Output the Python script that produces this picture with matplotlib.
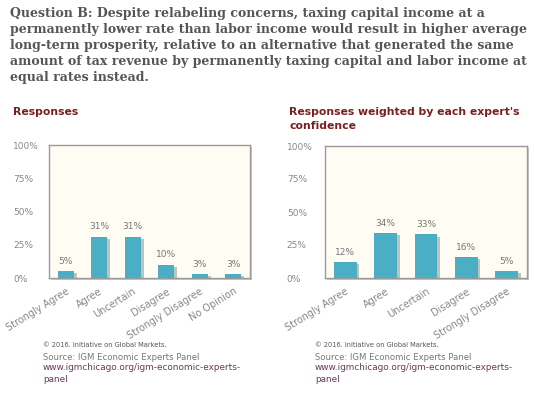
import numpy as np
import matplotlib
matplotlib.use("Agg")
from matplotlib import pyplot as plt
from matplotlib import patheffects as pe
from matplotlib.patches import Rectangle

# Data
question_lines = [
    "Question B: Despite relabeling concerns, taxing capital income at a",
    "permanently lower rate than labor income would result in higher average",
    "long-term prosperity, relative to an alternative that generated the same",
    "amount of tax revenue by permanently taxing capital and labor income at",
    "equal rates instead.",
]
left_categories = ["Strongly Agree", "Agree", "Uncertain", "Disagree",
                   "Strongly Disagree", "No Opinion"]
left_values = [5, 31, 31, 10, 3, 3]
right_categories = ["Strongly Agree", "Agree", "Uncertain", "Disagree",
                    "Strongly Disagree"]
right_values = [12, 34, 33, 16, 5]
y_ticks = [0, 25, 50, 75, 100]

W, H = 535, 394
fig = plt.figure(figsize=(W / 100, H / 100), dpi=100)
fig.patch.set_facecolor("white")


def px(x, y):
    return x / W, 1 - y / H


# Question text
for i, line in enumerate(question_lines):
    fig.text(*px(10, 14 + i * 15.8), line, family="DejaVu Serif",
             weight="bold", fontsize=9.0, color="#555555", va="center")

bar_color = "#4aafc5"
face = "#fffcf3"


def panel(rect_px, title_lines, cats, vals, width, label_pad):
    x0, y0, x1, y1 = rect_px
    l, t = px(x0, y0)
    r, b = px(x1, y1)
    # frame shadow
    fig.patches.append(Rectangle((l + 2 / W, b - 2 / H), r - l, t - b,
                                 transform=fig.transFigure, facecolor="#c8c8c8",
                                 edgecolor="none", zorder=-5))
    ax = fig.add_axes([l, b, r - l, t - b])
    ax.set_facecolor(face)
    for s in ax.spines.values():
        s.set_color("#9a9a9a")
        s.set_linewidth(1.0)
    x = np.arange(len(cats))
    bars = ax.bar(x, vals, width=width, color=bar_color, zorder=3)
    for bar in bars:
        bar.set_path_effects([pe.SimplePatchShadow(offset=(2, -1.5),
                                                   shadow_rgbFace="#888888", alpha=0.5),
                              pe.Normal()])
    for xi, v in zip(x, vals):
        ax.text(xi, v + 4, f"{v}%", ha="center", va="bottom",
                fontsize=6.5, color="#777777")
    ax.set_xlim(-0.5, len(cats) - 0.5)
    ax.set_ylim(0, 100)
    ax.set_yticks(y_ticks)
    ax.set_yticklabels([f"{v}%" for v in y_ticks], ha="left",
                       fontsize=6.5, color="#888888")
    ax.tick_params(axis="y", length=0, pad=label_pad)
    ax.set_xticks(x)
    ax.set_xticklabels(cats, rotation=32, ha="right", rotation_mode="anchor",
                       fontsize=7.0, color="#888888")
    ax.tick_params(axis="x", length=0, pad=6)
    # panel title
    for i, tl in enumerate(title_lines):
        fig.text(*px(x0 - 36, 112 + i * 14), tl,
                 fontsize=7.8, weight="bold", color="#7a1f1f", va="center")
    return ax


panel((49, 145, 250, 278), ["Responses"], left_categories, left_values, 0.48, 26)
panel((325, 146, 527, 278), ["Responses weighted by each expert's", "confidence"],
      right_categories, right_values, 0.56, 27.5)

# Footers
for fx in (43, 315):
    fig.text(*px(fx, 345), "\u00a9 2016. Initiative on Global Markets.",
             fontsize=4.8, color="#555555", va="center")
    fig.text(*px(fx, 357), "Source: IGM Economic Experts Panel",
             fontsize=6.1, color="#777777", va="center")
    fig.text(*px(fx, 368), "www.igmchicago.org/igm-economic-experts-",
             fontsize=6.4, color="#6a3a62", va="center")
    fig.text(*px(fx, 379), "panel", fontsize=6.4, color="#6a3a62", va="center")

fig.savefig("out.png", dpi=100)
